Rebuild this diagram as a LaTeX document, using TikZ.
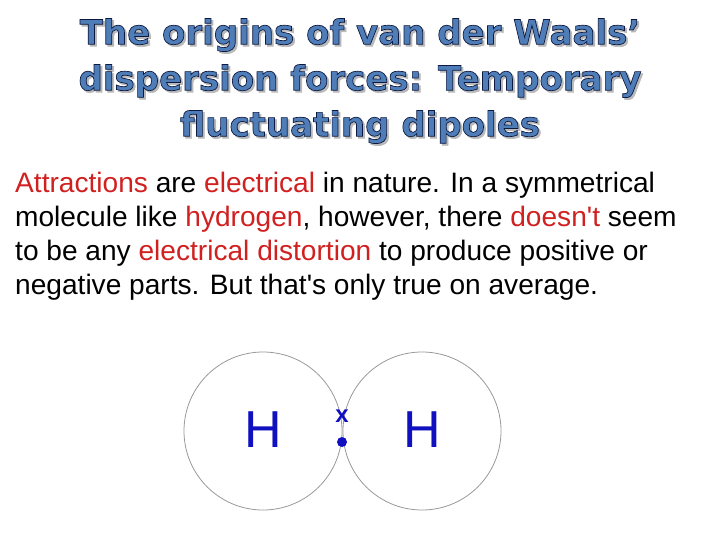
\documentclass[tikz,border=0pt]{standalone}
\usepackage{fontspec}
\setmainfont{Liberation Sans}
\newfontfamily\titlefont{DejaVu Sans}[FakeBold=2]
\definecolor{titleblue}{HTML}{4F7DB8}
\definecolor{redword}{HTML}{D02020}
\definecolor{hblue}{HTML}{1010C0}
\newcommand\outlined[1]{\special{pdf:literal direct 2 Tr 1.2 w 0.05 0.1 0.25 RG}#1\special{pdf:literal direct 0 Tr}}
\newcommand\hl[1]{\textcolor{redword}{#1}}
\newcommand\apos{\textquotesingle}
\tikzset{
  titletext/.style={align=center,font=\titlefont\bfseries\fontsize{34}{46}\selectfont},
  bodytext/.style={align=left,anchor=north west,inner sep=0pt,font=\fontsize{28.1}{34}\selectfont},
  atom/.style={circle,draw=gray!80,line width=0.8pt,minimum size=158pt,inner sep=0pt},
  hlabel/.style={text=hblue,font=\fontsize{52}{52}\selectfont}
}
\begin{document}
\begin{tikzpicture}[x=1pt,y=-1pt]
\useasboundingbox (0,0) rectangle (720,540);
% title with shadow
\node[titletext,text=gray!55] (shadow) at (362,83) {The origins of van der Waals’\\dispersion forces: Temporary\\fluctuating dipoles};
\node[titletext,text=titleblue] (title) at (360,81) {\outlined{The origins of van der Waals’}\\\outlined{dispersion forces: Temporary}\\\outlined{fluctuating dipoles}};
% text
\node[bodytext] (body) at (15,172) {\hl{Attractions} are \hl{electrical} in nature. In a symmetrical\\molecule like \hl{hydrogen}, however, there \hl{doesn\apos t} seem\\to be any \hl{electrical distortion} to produce positive or\\negative parts. But that\apos s only true on average.};
% molecule
\node[atom] (left) at (263,431) {};
\node[atom] (right) at (422,431) {};
\node[hlabel] (hleft) at (263,430) {H};
\node[hlabel] (hright) at (422,430) {H};
\node[text=hblue,font=\bfseries\fontsize{24}{24}\selectfont,inner sep=0pt] (xmark) at (342,416) {x};
\fill[hblue] (342,442) circle (5pt);
\end{tikzpicture}
\end{document}
